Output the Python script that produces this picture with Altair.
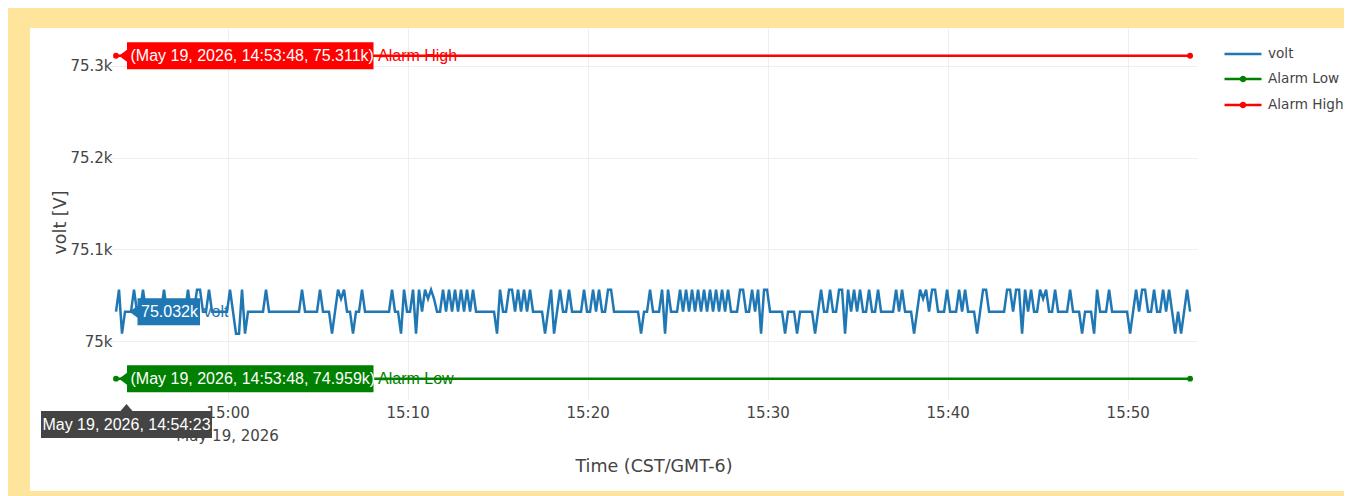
import altair as alt
import pandas as pd

# ---------------- data ----------------
series_names = ["volt", "Alarm Low", "Alarm High"]
series_colors = ["#1f77b4", "#008000", "#ff0000"]

volt_start = "2026-05-19 14:53:48"
volt_step = "10s"
volt_values = [
    75032, 75056, 75008, 75032, 75032, 75032, 75056, 75032, 75032, 75056, 75032, 75032, 75032, 75032, 75032, 75032, 75056, 75032, 75032, 75032,
    75032, 75032, 75032, 75032, 75056, 75032, 75032, 75056, 75056, 75032, 75032, 75056, 75032, 75032, 75032, 75032, 75032, 75032, 75056, 75032,
    75008, 75008, 75056, 75008, 75032, 75032, 75032, 75032, 75032, 75032, 75056, 75032, 75032, 75032, 75032, 75032, 75032, 75032, 75032, 75032,
    75032, 75032, 75056, 75032, 75032, 75032, 75032, 75032, 75056, 75032, 75032, 75032, 75008, 75032, 75056, 75046, 75056, 75032, 75032, 75008,
    75032, 75032, 75056, 75032, 75032, 75032, 75032, 75032, 75032, 75032, 75032, 75032, 75056, 75032, 75032, 75008, 75056, 75032, 75032, 75056,
    75008, 75056, 75032, 75056, 75046, 75056, 75046, 75032, 75032, 75056, 75032, 75056, 75032, 75056, 75032, 75056, 75032, 75056, 75032, 75056,
    75032, 75032, 75032, 75032, 75032, 75032, 75032, 75008, 75056, 75032, 75032, 75056, 75056, 75032, 75056, 75032, 75056, 75032, 75056, 75032,
    75032, 75032, 75032, 75008, 75032, 75056, 75008, 75032, 75056, 75032, 75032, 75056, 75032, 75032, 75032, 75032, 75056, 75032, 75032, 75056,
    75032, 75056, 75032, 75032, 75056, 75056, 75032, 75032, 75032, 75032, 75032, 75032, 75032, 75032, 75032, 75008, 75032, 75032, 75056, 75032,
    75032, 75032, 75056, 75008, 75056, 75032, 75032, 75032, 75056, 75032, 75056, 75032, 75056, 75032, 75056, 75032, 75056, 75032, 75056, 75032,
    75056, 75032, 75056, 75032, 75056, 75032, 75032, 75032, 75056, 75056, 75032, 75032, 75056, 75032, 75056, 75008, 75056, 75056, 75032, 75032,
    75032, 75032, 75032, 75008, 75032, 75032, 75032, 75008, 75032, 75032, 75032, 75032, 75032, 75008, 75032, 75056, 75032, 75032, 75056, 75032,
    75032, 75056, 75056, 75008, 75056, 75032, 75056, 75032, 75056, 75032, 75032, 75056, 75032, 75032, 75056, 75032, 75032, 75032, 75032, 75032,
    75056, 75032, 75056, 75032, 75032, 75032, 75008, 75032, 75056, 75046, 75056, 75032, 75056, 75056, 75032, 75032, 75032, 75056, 75032, 75032,
    75032, 75056, 75032, 75056, 75032, 75032, 75032, 75008, 75032, 75056, 75056, 75032, 75032, 75032, 75032, 75032, 75032, 75056, 75056, 75032,
    75056, 75056, 75008, 75056, 75032, 75056, 75032, 75032, 75056, 75046, 75056, 75032, 75032, 75056, 75032, 75032, 75032, 75032, 75056, 75032,
    75032, 75032, 75008, 75032, 75032, 75032, 75008, 75056, 75032, 75032, 75032, 75056, 75032, 75032, 75032, 75032, 75032, 75032, 75008, 75032,
    75056, 75032, 75056, 75056, 75032, 75032, 75056, 75032, 75032, 75056, 75032, 75056, 75032, 75008, 75032, 75008, 75032, 75056, 75032,
]

alarm_times = ["2026-05-19T14:53:48", "2026-05-19T15:53:28"]
alarm_low_values = [74959, 74959]
alarm_high_values = [75311, 75311]

hover_series = ["Alarm High", "Alarm Low"]
hover_times = ["2026-05-19T14:53:48", "2026-05-19T14:53:48"]
hover_values = [75311, 74959]
hover_texts = ["(May 19, 2026, 14:53:48, 75.311k)", "(May 19, 2026, 14:53:48, 74.959k)"]

volt_hover_time = "2026-05-19T14:54:23"
volt_hover_value = 75032
volt_hover_text = "75.032k"
x_hover_text = "May 19, 2026, 14:54:23"

x_tick_minutes = [0, 10, 20, 30, 40, 50]
date_label_time = "2026-05-19T15:00:00"
date_label_text = "May 19, 2026"
y_ticks = [75000, 75100, 75200, 75300]
y_range = [74935.7, 75341.3]

# ---------------- tables ----------------
volt_times = pd.date_range(volt_start, periods=len(volt_values), freq=volt_step).strftime("%Y-%m-%dT%H:%M:%S")
volt_df = pd.DataFrame({"time": list(volt_times), "value": volt_values, "series": "volt"})
alarm_df = pd.DataFrame({
    "time": alarm_times + alarm_times,
    "value": alarm_low_values + alarm_high_values,
    "series": ["Alarm Low"] * 2 + ["Alarm High"] * 2,
})
hover_df = pd.DataFrame({"time": hover_times, "value": hover_values, "series": hover_series, "text": hover_texts})
volt_hover_df = pd.DataFrame({"time": [volt_hover_time], "value": [volt_hover_value], "series": ["volt"], "text": [volt_hover_text]})
x_hover_df = pd.DataFrame({"time": [volt_hover_time], "value": [y_range[0]], "text": [x_hover_text]})
date_df = pd.DataFrame({"time": [date_label_time], "value": [y_range[0]], "text": [date_label_text]})
legend_df = pd.DataFrame({"series": series_names})

# ---------------- styling ----------------
GRID = "#eeeeee"
TXT = "#444444"
AX_FONT = "DejaVu Sans"
HV_FONT = "Liberation Sans"
YELLOW = "#FFE49B"

BOX_ALARM = "M3,0L11,-6L11,-13.5L257.5,-13.5L257.5,13.5L11,13.5L11,6Z"
BOX_VOLT = "M3,0L11,-6L11,-13.5L73.5,-13.5L73.5,13.5L11,13.5L11,6Z"
BOX_X = "M0,4L6,11L85.5,11L85.5,38L-85.5,38L-85.5,11L-6,11Z"
LEG_LINE = "M-2.5,0L2.5,0"
LEG_DOT = ("M-2.5,0L2.5,0M-0.28,0A0.28,0.28,0,1,1,0.28,0A0.28,0.28,0,1,1,-0.28,0"
           "M-0.1,0A0.1,0.1,0,1,1,0.1,0A0.1,0.1,0,1,1,-0.1,0")

x_scale = alt.Scale(
    domain=[alt.DateTime(year=2026, month=5, date=19, hours=14, minutes=53, seconds=28),
            alt.DateTime(year=2026, month=5, date=19, hours=15, minutes=53, seconds=51)],
    nice=False,
)
y_scale = alt.Scale(domain=y_range, nice=False, zero=False)

x_axis = alt.Axis(
    title="Time (CST/GMT-6)",
    values=[alt.DateTime(year=2026, month=5, date=19, hours=15, minutes=m) for m in x_tick_minutes],
    format="%H:%M",
    grid=True, gridColor=GRID, domain=False, ticks=False,
    labelFont=AX_FONT, labelFontSize=15, labelColor=TXT, labelPadding=5,
    labelFlush=False, labelOverlap=False,
    titleFont=AX_FONT, titleFontSize=17.5, titleFontWeight="normal", titleColor=TXT,
    titleY=66, titleBaseline="middle",
)
y_axis = alt.Axis(
    title="volt [V]", values=y_ticks, format="~s",
    grid=True, gridColor=GRID, domain=False, ticks=False,
    labelFont=AX_FONT, labelFontSize=15, labelColor=TXT, labelPadding=-2,
    titleFont=AX_FONT, titleFontSize=17.5, titleFontWeight="normal", titleColor=TXT,
    titlePadding=0, titleY=194,
)

X = alt.X("time:T", scale=x_scale, axis=x_axis)
Y = alt.Y("value:Q", scale=y_scale, axis=y_axis)
color_scale = alt.Scale(domain=series_names, range=series_colors)
C = alt.Color("series:N", scale=color_scale, legend=None)

one = alt.Data(values=[{"k": 1}])

def strip(x0, x1, y0, y1):
    return alt.Chart(one).mark_rect(color=YELLOW).encode(
        x=alt.value(x0), x2=alt.value(x1), y=alt.value(y0), y2=alt.value(y1))

# yellow frame around the white panel (plot origin sits at page x=110, y=28)
strips = [
    strip(-102, 1234, -20, 0),
    strip(-102, -80, -20, 468),
    strip(-102, 1234, 463, 468),
]

leg = alt.Legend(
    title=None, orient="none", legendX=1124, legendY=17, padding=0,
    symbolSize=219, symbolStrokeWidth=2.5, labelFont=AX_FONT, labelFontSize=13.6,
    labelColor=TXT, labelOffset=16, rowPadding=9,
)
legend_layer = alt.Chart(legend_df).mark_point(filled=False, opacity=1, strokeWidth=2.5).encode(
    color=alt.Color("series:N", scale=color_scale, legend=leg),
    shape=alt.Shape("series:N", scale=alt.Scale(domain=series_names, range=[LEG_LINE, LEG_DOT, LEG_DOT]), legend=leg),
).transform_filter("false")

alarm_lines = alt.Chart(alarm_df).mark_line(strokeWidth=2.5).encode(x=X, y=Y, color=C)
volt_line = alt.Chart(volt_df).mark_line(strokeWidth=2.5).encode(x=X, y=Y, color=C)
alarm_pts = alt.Chart(alarm_df).mark_circle(size=34, opacity=1).encode(x=X, y=Y, color=C)

date_text = alt.Chart(date_df).mark_text(align="center", baseline="middle", dy=36, font=AX_FONT, fontSize=15, color=TXT).encode(x=X, y=Y, text="text:N")

alarm_boxes = alt.Chart(hover_df).mark_point(shape=BOX_ALARM, size=4, filled=True, opacity=1, strokeWidth=0).encode(x=X, y=Y, color=C)
alarm_box_text = alt.Chart(hover_df).mark_text(align="left", baseline="middle", dx=14.5, dy=0.5, font=HV_FONT, fontSize=16, color="white").encode(x=X, y=Y, text="text:N")
alarm_names = alt.Chart(hover_df).mark_text(align="left", baseline="middle", dx=262, dy=0.5, font=HV_FONT, fontSize=16).encode(x=X, y=Y, text="series:N", color=C)

volt_box = alt.Chart(volt_hover_df).mark_point(shape=BOX_VOLT, size=4, filled=True, opacity=1, strokeWidth=0).encode(x=X, y=Y, color=C)
volt_box_text = alt.Chart(volt_hover_df).mark_text(align="left", baseline="middle", dx=14.5, dy=0.5, font=HV_FONT, fontSize=16, color="white").encode(x=X, y=Y, text="text:N")
volt_name = alt.Chart(volt_hover_df).mark_text(align="left", baseline="middle", dx=77, dy=0.5, font=HV_FONT, fontSize=16).encode(x=X, y=Y, text="series:N", color=C)

x_box = alt.Chart(x_hover_df).mark_point(shape=BOX_X, size=4, filled=True, opacity=1, strokeWidth=0, color="#444444").encode(x=X, y=Y)
x_box_text = alt.Chart(x_hover_df).mark_text(align="center", baseline="middle", dy=25, font=HV_FONT, fontSize=16, color="white").encode(x=X, y=Y, text="text:N")

chart = alt.layer(
    legend_layer, *strips, alarm_lines, volt_line, alarm_pts, date_text,
    alarm_boxes, alarm_box_text, alarm_names,
    volt_box, volt_box_text, volt_name,
    x_box, x_box_text,
).properties(
    width=1087, height=372,
    autosize=alt.AutoSizeParams(type="none"),
    padding={"left": 102, "top": 20, "right": 147, "bottom": 96},
    background="white",
).configure_view(stroke=None)

chart.save("out.html", embed_options={"renderer": "svg", "actions": False})
